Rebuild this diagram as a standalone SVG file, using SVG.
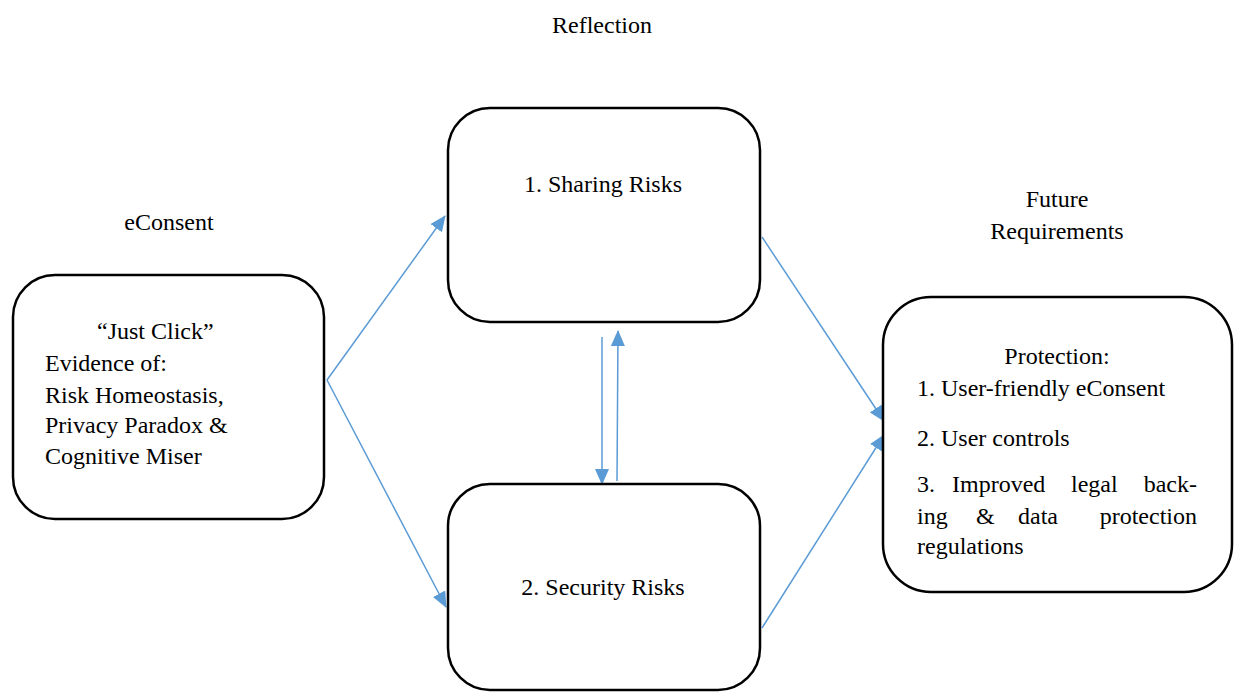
<svg xmlns="http://www.w3.org/2000/svg" width="1234" height="692" viewBox="0 0 1234 692">
  <style>
    .box { fill: #ffffff; stroke: #000000; stroke-width: 2.5; }
    .c { text-anchor: middle; }
    .e { text-anchor: end; }
    .link { stroke: #5B9BD5; stroke-width: 1.5; fill: none; marker-end: url(#arrow); }
  </style>
  <defs>
    <marker id="arrow" markerUnits="userSpaceOnUse" markerWidth="16" markerHeight="14" viewBox="0 0 16 14" refX="15" refY="7" orient="auto">
      <path d="M0,0 L16,7 L0,14 Z" fill="#5B9BD5"/>
    </marker>
  </defs>
  <rect width="1234" height="692" fill="#ffffff"/>

  <g font-family="Liberation Serif, DejaVu Serif, serif" font-size="24" fill="#000000">
    <!-- column headings -->
    <text class="c" x="602" y="33">Reflection</text>
    <text class="c" x="169" y="230">eConsent</text>
    <text class="c" x="1057" y="207">Future</text>
    <text class="c" x="1057" y="239">Requirements</text>
  </g>

  <!-- connectors -->
  <g id="connectors">
    <line class="link" x1="327" y1="380" x2="445" y2="216"/>
    <line class="link" x1="327" y1="380" x2="446" y2="607"/>
    <line class="link" x1="762" y1="237" x2="884" y2="421"/>
    <line class="link" x1="762" y1="628" x2="884" y2="435"/>
    <line class="link" x1="602" y1="337" x2="602" y2="484"/>
    <line class="link" x1="617" y1="481" x2="618" y2="331"/>
  </g>

  <g id="node-econsent" font-family="Liberation Serif, DejaVu Serif, serif" font-size="24" fill="#000000">
    <rect class="box" x="13" y="275" width="311" height="244" rx="42"/>
    <text x="97" y="339">“Just Click”</text>
    <text x="45" y="371">Evidence of:</text>
    <text x="45" y="403">Risk Homeostasis,</text>
    <text x="45" y="433">Privacy Paradox &amp;</text>
    <text x="45" y="464">Cognitive Miser</text>
  </g>

  <g id="node-sharing" font-family="Liberation Serif, DejaVu Serif, serif" font-size="24" fill="#000000">
    <rect class="box" x="448" y="108" width="312" height="214" rx="42"/>
    <text class="c" x="603" y="192">1. Sharing Risks</text>
  </g>

  <g id="node-security" font-family="Liberation Serif, DejaVu Serif, serif" font-size="24" fill="#000000">
    <rect class="box" x="448" y="484" width="312" height="206" rx="42"/>
    <text class="c" x="603" y="595">2. Security Risks</text>
  </g>

  <g id="node-protection" font-family="Liberation Serif, DejaVu Serif, serif" font-size="24" fill="#000000">
    <rect class="box" x="883" y="297" width="349" height="295" rx="48"/>
    <text class="c" x="1057" y="364">Protection:</text>
    <text x="917" y="396">1. User-friendly eConsent</text>
    <text x="917" y="446">2. User controls</text>
    <text x="917" y="492">3.</text>
    <text x="952" y="492">Improved</text>
    <text x="1071" y="492">legal</text>
    <text class="e" x="1197" y="492">back-</text>
    <text x="917" y="524">ing</text>
    <text x="976" y="524">&amp;</text>
    <text x="1018" y="524">data</text>
    <text class="e" x="1197" y="524">protection</text>
    <text x="917" y="554">regulations</text>
  </g>
</svg>
